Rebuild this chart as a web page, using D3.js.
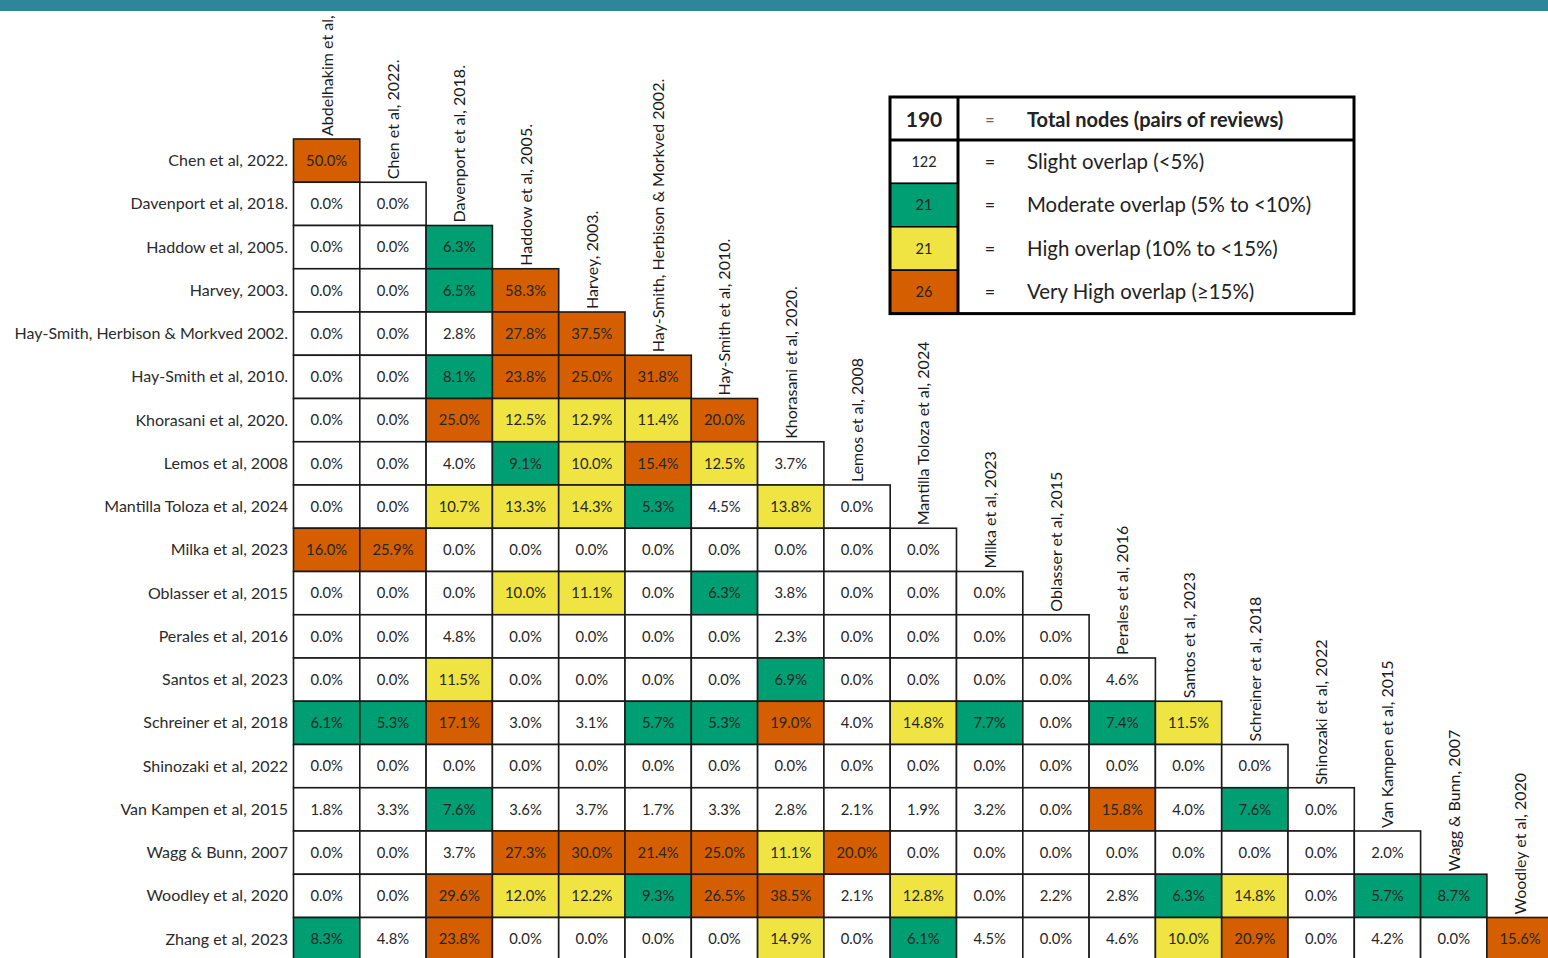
<!DOCTYPE html>
<html>
<head>
<meta charset="utf-8">
<script src="https://cdn.jsdelivr.net/npm/d3@7"></script>
<style>
    html, body { margin: 0; padding: 0; background: #fff; }
    svg { display: block; font-family: Lato, "Open Sans", sans-serif; }
</style>
</head>
<body>
<div id="chart"></div>
<script>
// Overlap matrix data (corrected covered area, % per pair of reviews)
const columns = [
    "Abdelhakim et al,", "Chen et al, 2022.", "Davenport et al, 2018.", "Haddow et al, 2005.",
    "Harvey, 2003.", "Hay-Smith, Herbison & Morkved 2002.", "Hay-Smith et al, 2010.",
    "Khorasani et al, 2020.", "Lemos et al, 2008", "Mantilla Toloza et al, 2024",
    "Milka et al, 2023", "Oblasser et al, 2015", "Perales et al, 2016", "Santos et al, 2023",
    "Schreiner et al, 2018", "Shinozaki et al, 2022", "Van Kampen et al, 2015",
    "Wagg & Bunn, 2007", "Woodley et al, 2020"
];

const rows = [
    "Chen et al, 2022.", "Davenport et al, 2018.", "Haddow et al, 2005.", "Harvey, 2003.",
    "Hay-Smith, Herbison & Morkved 2002.", "Hay-Smith et al, 2010.", "Khorasani et al, 2020.",
    "Lemos et al, 2008", "Mantilla Toloza et al, 2024", "Milka et al, 2023",
    "Oblasser et al, 2015", "Perales et al, 2016", "Santos et al, 2023", "Schreiner et al, 2018",
    "Shinozaki et al, 2022", "Van Kampen et al, 2015", "Wagg & Bunn, 2007",
    "Woodley et al, 2020", "Zhang et al, 2023"
];

// one array per row, values left to right
const values = [
    [50.0],
    [0.0, 0.0],
    [0.0, 0.0, 6.3],
    [0.0, 0.0, 6.5, 58.3],
    [0.0, 0.0, 2.8, 27.8, 37.5],
    [0.0, 0.0, 8.1, 23.8, 25.0, 31.8],
    [0.0, 0.0, 25.0, 12.5, 12.9, 11.4, 20.0],
    [0.0, 0.0, 4.0, 9.1, 10.0, 15.4, 12.5, 3.7],
    [0.0, 0.0, 10.7, 13.3, 14.3, 5.3, 4.5, 13.8, 0.0],
    [16.0, 25.9, 0.0, 0.0, 0.0, 0.0, 0.0, 0.0, 0.0, 0.0],
    [0.0, 0.0, 0.0, 10.0, 11.1, 0.0, 6.3, 3.8, 0.0, 0.0, 0.0],
    [0.0, 0.0, 4.8, 0.0, 0.0, 0.0, 0.0, 2.3, 0.0, 0.0, 0.0, 0.0],
    [0.0, 0.0, 11.5, 0.0, 0.0, 0.0, 0.0, 6.9, 0.0, 0.0, 0.0, 0.0, 4.6],
    [6.1, 5.3, 17.1, 3.0, 3.1, 5.7, 5.3, 19.0, 4.0, 14.8, 7.7, 0.0, 7.4, 11.5],
    [0.0, 0.0, 0.0, 0.0, 0.0, 0.0, 0.0, 0.0, 0.0, 0.0, 0.0, 0.0, 0.0, 0.0, 0.0],
    [1.8, 3.3, 7.6, 3.6, 3.7, 1.7, 3.3, 2.8, 2.1, 1.9, 3.2, 0.0, 15.8, 4.0, 7.6, 0.0],
    [0.0, 0.0, 3.7, 27.3, 30.0, 21.4, 25.0, 11.1, 20.0, 0.0, 0.0, 0.0, 0.0, 0.0, 0.0, 0.0, 2.0],
    [0.0, 0.0, 29.6, 12.0, 12.2, 9.3, 26.5, 38.5, 2.1, 12.8, 0.0, 2.2, 2.8, 6.3, 14.8, 0.0, 5.7, 8.7],
    [8.3, 4.8, 23.8, 0.0, 0.0, 0.0, 0.0, 14.9, 0.0, 6.1, 4.5, 0.0, 4.6, 10.0, 20.9, 0.0, 4.2, 0.0, 15.6]
];

const thresholds = [5, 10, 15];
const levelColors = ["#ffffff", "#009E73", "#F0E442", "#D55E00"];
const levelLabels = [
    "Slight overlap (<5%)",
    "Moderate overlap (5% to <10%)",
    "High overlap (10% to <15%)",
    "Very High overlap (\u226515%)"
];

const width = 1548, height = 958;

const svg = d3.select("#chart").append("svg")
    .attr("width", width)
    .attr("height", height);

const x = d3.scaleBand().domain(columns).range([293.5, 293.5 + 19 * 66.3]);
const y = d3.scaleBand().domain(rows).range([139, 139 + 19 * 43.25]);
const color = d3.scaleThreshold().domain(thresholds).range(levelColors);

const cells = [];
values.forEach((row, r) => {
    row.forEach((v, c) => cells.push({ row: rows[r], col: columns[c], v }));
});

const g = svg.append("g");

// Cells
const cell = g.selectAll("g.cell")
    .data(cells)
    .join("g")
    .attr("class", "cell")
    .attr("transform", d => `translate(${x(d.col)},${y(d.row)})`);

cell.append("rect")
    .attr("width", x.bandwidth())
    .attr("height", y.bandwidth())
    .attr("fill", d => color(d.v))
    .attr("stroke", "#1a1a1a")
    .attr("stroke-width", 1.6);

cell.append("text")
    .attr("x", x.bandwidth() / 2)
    .attr("y", y.bandwidth() / 2)
    .attr("dy", "0.35em")
    .attr("text-anchor", "middle")
    .attr("font-size", 14.8)
    .attr("fill", "#262626")
    .text(d => d3.format(".1f")(d.v) + "%");

// Row labels
g.selectAll("text.row-label")
    .data(rows)
    .join("text")
    .attr("class", "row-label")
    .attr("x", 288)
    .attr("y", d => y(d) + y.bandwidth() / 2)
    .attr("dy", "0.35em")
    .attr("text-anchor", "end")
    .attr("font-size", 16)
    .attr("fill", "#2b2b2b")
    .text(d => d);

// Column labels, rotated, sitting on top of each column's first cell
g.selectAll("text.col-label")
    .data(columns)
    .join("text")
    .attr("class", "col-label")
    .attr("transform", (d, i) => `translate(${x(d) + x.bandwidth() / 2 + 6},${y(rows[i]) - 3}) rotate(-90)`)
    .attr("text-anchor", "start")
    .attr("font-size", 16)
    .attr("fill", "#1a1a1a")
    .text(d => d);

// teal strip across the top (drawn over the long first column label)
svg.append("rect")
    .attr("x", 0).attr("y", 0)
    .attr("width", width).attr("height", 11)
    .attr("fill", "#31859b");

// Legend
const counts = levelColors.map(() => 0);
cells.forEach(d => { counts[levelColors.indexOf(color(d.v))] += 1; });

const lg = svg.append("g").attr("transform", "translate(890,97)");
const lw = 464, keyW = 68, headH = 43, rowH = 43.4;

const legendRows = levelLabels.map((label, i) => ({ label, n: counts[i], fill: levelColors[i] }));

lg.selectAll("rect.key")
    .data(legendRows)
    .join("rect")
    .attr("class", "key")
    .attr("x", 0)
    .attr("y", (d, i) => headH + i * rowH)
    .attr("width", keyW)
    .attr("height", rowH)
    .attr("fill", d => d.fill)
    .attr("stroke", "#000")
    .attr("stroke-width", 1.5);

lg.selectAll("text.count")
    .data(legendRows)
    .join("text")
    .attr("class", "count")
    .attr("x", keyW / 2)
    .attr("y", (d, i) => headH + i * rowH + rowH / 2)
    .attr("dy", "0.35em")
    .attr("text-anchor", "middle")
    .attr("font-size", 14.5)
    .attr("fill", "#222")
    .text(d => d.n);

lg.selectAll("text.eq")
    .data(legendRows)
    .join("text")
    .attr("class", "eq")
    .attr("x", 100)
    .attr("y", (d, i) => headH + i * rowH + rowH / 2)
    .attr("dy", "0.35em")
    .attr("text-anchor", "middle")
    .attr("font-size", 18)
    .attr("fill", "#222")
    .text("=");

lg.selectAll("text.desc")
    .data(legendRows)
    .join("text")
    .attr("class", "desc")
    .attr("x", 137)
    .attr("y", (d, i) => headH + i * rowH + rowH / 2)
    .attr("dy", "0.35em")
    .attr("font-size", 20.4)
    .attr("fill", "#222")
    .text(d => d.label);

// header row
lg.append("text")
    .attr("x", keyW / 2).attr("y", headH / 2 + 1).attr("dy", "0.35em")
    .attr("text-anchor", "middle")
    .attr("font-size", 21).attr("font-weight", 700).attr("fill", "#222")
    .text(d3.sum(counts));

lg.append("text")
    .attr("x", 100).attr("y", headH / 2 + 1).attr("dy", "0.35em")
    .attr("text-anchor", "middle")
    .attr("font-size", 16).attr("font-weight", 700).attr("fill", "#666")
    .text("=");

lg.append("text")
    .attr("x", 137).attr("y", headH / 2 + 1).attr("dy", "0.35em")
    .attr("font-size", 20).attr("font-weight", 700).attr("fill", "#222")
    .text("Total nodes (pairs of reviews)");

// outer frame and thick dividers
const lh = headH + 4 * rowH;
lg.append("rect")
    .attr("width", lw).attr("height", lh)
    .attr("fill", "none").attr("stroke", "#000").attr("stroke-width", 3);
lg.append("line")
    .attr("x1", 0).attr("x2", lw).attr("y1", headH).attr("y2", headH)
    .attr("stroke", "#000").attr("stroke-width", 3);
lg.append("line")
    .attr("x1", keyW).attr("x2", keyW).attr("y1", 0).attr("y2", lh)
    .attr("stroke", "#000").attr("stroke-width", 3);
</script>
</body>
</html>
